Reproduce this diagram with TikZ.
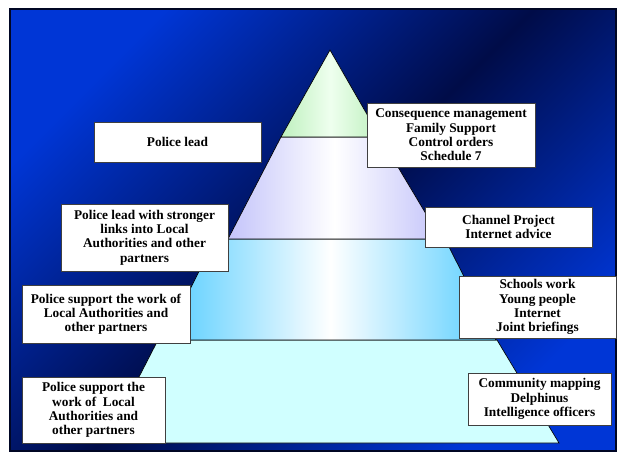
\documentclass[tikz,border=0pt]{standalone}
\usepackage{fontspec}
\setmainfont{Liberation Serif}
\definecolor{slidebright}{RGB}{0,54,214}
\definecolor{slidedark}{RGB}{0,12,72}
\definecolor{tiergreen}{RGB}{190,240,190}
\definecolor{tiergreenmid}{RGB}{238,255,238}
\definecolor{tierlilac}{RGB}{196,196,250}
\definecolor{tiersky}{RGB}{85,205,255}
\definecolor{tiercyan}{RGB}{208,255,255}
\tikzset{
	tierline/.style={draw=black, line width=0.5pt},
	infobox/.style={draw=black!75, fill=white, line width=0.6pt, align=center, inner sep=0pt, font=\bfseries\fontsize{10}{10.7}\selectfont}
}
\begin{document}
\begin{tikzpicture}[x=0.75pt, y=-0.75pt]
	\useasboundingbox (0,0) rectangle (620,459);
	\shade[top color=slidebright, bottom color=slidebright, middle color=slidedark, shading angle=45] (10,9) rectangle (616,451);
	\draw[slidedark!50!black, line width=1.6pt] (10,9) rectangle (616,451);
	\filldraw[tierline, fill=tiercyan] (158,340) -- (497,340) -- (559,443) -- (105,443) -- cycle;
	\shadedraw[tierline, left color=tiersky, right color=tiersky, middle color=white] (215,239) -- (445,239) -- (496,340) -- (165,340) -- cycle;
	\shadedraw[tierline, left color=tierlilac, right color=tierlilac, middle color=white] (281,137) -- (380,137) -- (441,239) -- (228,239) -- cycle;
	\shadedraw[tierline, left color=tiergreen, right color=tiergreen, middle color=tiergreenmid] (330,50) -- (380,137) -- (281,137) -- cycle;
	\node[infobox, minimum width=125.25pt, minimum height=30pt] (lead) at (177.5,142) {Police lead};
	\node[infobox, minimum width=126pt, minimum height=48pt] (consequence) at (451,135) {Consequence management\\Family Support\\Control orders\\Schedule 7};
	\node[infobox, minimum width=125.25pt, minimum height=50.25pt] (leadlinks) at (144.5,237.5) {Police lead with stronger\\links into Local\\Authorities and other\\partners};
	\node[infobox, minimum width=125.25pt, minimum height=30pt] (channel) at (508.5,227) {Channel Project\\Internet advice};
	\node[infobox, minimum width=126pt, minimum height=43.5pt] (supportwork) at (106,314) {Police support the work of\\Local Authorities and\\other partners};
	\node[infobox, minimum width=117.75pt, minimum height=46.5pt] (schools) at (537.5,307) {Schools work\\Young people\\Internet\\Joint briefings};
	\node[infobox, minimum width=107.25pt, minimum height=49.5pt] (supportbase) at (93.5,410) {Police support the\\work of~ Local\\Authorities and\\other partners};
	\node[infobox, minimum width=107.25pt, minimum height=39pt] (community) at (539.5,399) {Community mapping\\Delphinus\\Intelligence officers};
\end{tikzpicture}
\end{document}
